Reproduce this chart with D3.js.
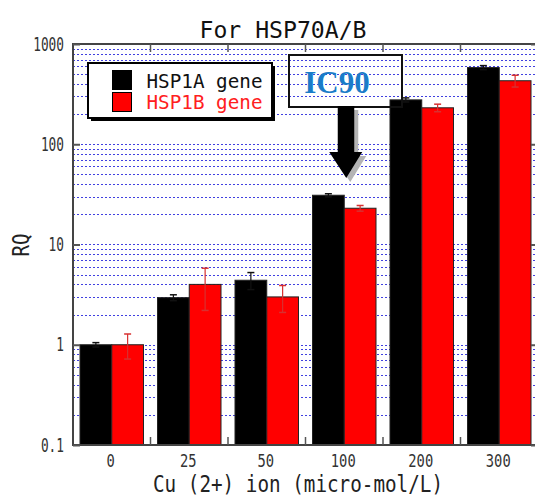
<!DOCTYPE html>
<html>
<head>
<meta charset="utf-8">
<script src="https://cdn.jsdelivr.net/npm/d3@7"></script>
<style>
  body { margin: 0; background: #fff; }
</style>
</head>
<body>
<div id="chart"></div>
<script>
// values
var doses = ["0", "25", "50", "100", "200", "300"];
var hsp1a = [1.0, 2.95, 4.4, 31, 277, 582];
var hsp1aErr = [0.05, 0.2, 0.85, 1.1, 13, 27];
var hsp1b = [1.0, 4.0, 3.0, 23, 231, 430];
var hsp1bErr = [0.28, 1.8, 0.9, 1.5, 20, 58];
var seriesNames = ["HSP1A gene", "HSP1B gene"];
var seriesColors = ["#000000", "#ff0000"];
var yTicks = [0.1, 1, 10, 100, 1000];

var wt = 535;
var ht = 496;
var pLeft = 73, pRight = 538, pTop = 44, pBottom = 445;
var mono = "'DejaVu Sans Mono', monospace";

var svg = d3.select("#chart").append("svg")
    .attr("width", wt)
    .attr("height", ht)
    .style("font-family", mono);

svg.append("rect")
    .attr("width", wt)
    .attr("height", ht)
    .attr("fill", "#fff");

var x0 = d3.scaleBand()
    .domain(doses)
    .range([pLeft, pRight]);

var x1 = d3.scaleBand()
    .domain([0, 1])
    .range([7, x0.bandwidth() - 7]);

var y = d3.scaleLog()
    .domain([0.1, 1000])
    .range([pBottom, pTop]);

// dotted blue grid at every log step
var gridVals = [];
[0.1, 1, 10, 100].forEach(function (d) {
    for (var k = 1; k <= 9; k++) {
        if (d * k > 0.1) gridVals.push(d * k);
    }
});
gridVals.push(1000);

svg.append("g").selectAll("line")
    .data(gridVals)
    .enter().append("line")
    .attr("x1", pLeft)
    .attr("x2", pRight)
    .attr("y1", function (d) { return Math.round(y(d)) + 0.5; })
    .attr("y2", function (d) { return Math.round(y(d)) + 0.5; })
    .attr("stroke", "#4040e0")
    .attr("stroke-width", 1.2)
    .attr("stroke-dasharray", "2,2");

// legend (white box hides the grid)
var lg = svg.append("g");
lg.append("rect")
    .attr("x", 91).attr("y", 66)
    .attr("width", 184).attr("height", 55)
    .attr("fill", "#000");
lg.append("rect")
    .attr("x", 88).attr("y", 63)
    .attr("width", 184).attr("height", 55)
    .attr("fill", "#fff")
    .attr("stroke", "#000")
    .attr("stroke-width", 2);
seriesNames.forEach(function (name, i) {
    lg.append("rect")
        .attr("x", 112.5).attr("y", 70.5 + i * 22)
        .attr("width", 19).attr("height", 19)
        .attr("fill", seriesColors[i])
        .attr("stroke", "#000")
        .attr("stroke-width", 1);
    lg.append("text")
        .attr("x", 146.5)
        .attr("y", 87.5 + i * 21)
        .attr("font-size", 20)
        .attr("textLength", 116)
        .attr("lengthAdjust", "spacingAndGlyphs")
        .attr("fill", i === 0 ? "#111" : "#ff2020")
        .text(name);
});

// bars
var series = [hsp1a, hsp1b];
var errs = [hsp1aErr, hsp1bErr];
series.forEach(function (vals, s) {
    var g = svg.append("g");
    g.selectAll("rect")
        .data(vals)
        .enter().append("rect")
        .attr("x", function (d, i) { return x0(doses[i]) + x1(s); })
        .attr("y", function (d) { return y(d); })
        .attr("width", x1.bandwidth())
        .attr("height", function (d) { return y(0.1) - y(d); })
        .attr("fill", seriesColors[s])
        .attr("stroke", "#222")
        .attr("stroke-width", 1);

    var errColor = s === 0 ? "#111" : "#d83030";
    var cx = function (d, i) { return x0(doses[i]) + x1(s) + x1.bandwidth() / 2; };
    var eb = g.selectAll(".err")
        .data(vals)
        .enter().append("g");
    eb.append("line")
        .attr("x1", cx)
        .attr("x2", cx)
        .attr("y1", function (d, i) { return y(d + errs[s][i]); })
        .attr("y2", function (d, i) { return y(d - errs[s][i]); })
        .attr("stroke", errColor)
        .attr("stroke-width", 1.2);
    [1, -1].forEach(function (sign) {
        eb.append("line")
            .attr("x1", function (d, i) { return cx(d, i) - 3.5; })
            .attr("x2", function (d, i) { return cx(d, i) + 3.5; })
            .attr("y1", function (d, i) { return y(d + sign * errs[s][i]); })
            .attr("y2", function (d, i) { return y(d + sign * errs[s][i]); })
            .attr("stroke", errColor)
            .attr("stroke-width", 1.5);
    });
});

// frame
svg.append("rect")
    .attr("x", pLeft).attr("y", pTop)
    .attr("width", pRight - pLeft).attr("height", pBottom - pTop)
    .attr("fill", "none")
    .attr("stroke", "#444")
    .attr("stroke-width", 2);

// y axes, ticks pointing inward
var yAxis = svg.append("g")
    .attr("transform", "translate(" + pLeft + ",0)")
    .call(d3.axisLeft(y).tickValues(yTicks).tickSize(-7).tickPadding(9)
        .tickFormat(function (d) { return String(d); }));
yAxis.select(".domain").remove();
yAxis.selectAll(".tick line").attr("stroke", "#555").attr("stroke-width", 2);
yAxis.selectAll(".tick text")
    .attr("font-size", 19)
    .attr("fill", "#333")
    .style("font-family", mono)
    .attr("textLength", function (d) { return String(d).length * 7.7; })
    .attr("lengthAdjust", "spacingAndGlyphs");

var yAxisR = svg.append("g")
    .attr("transform", "translate(" + pRight + ",0)")
    .call(d3.axisRight(y).tickValues(yTicks).tickSize(-7).tickFormat(""));
yAxisR.select(".domain").remove();
yAxisR.selectAll(".tick line").attr("stroke", "#555").attr("stroke-width", 2);

// x ticks sit between the groups
var bounds = doses.slice(1).map(function (d) { return x0(d); });
[[pBottom, pBottom - 8], [pTop, pTop + 8]].forEach(function (yy) {
    svg.append("g").selectAll("line")
        .data(bounds)
        .enter().append("line")
        .attr("x1", function (d) { return d; })
        .attr("x2", function (d) { return d; })
        .attr("y1", yy[0])
        .attr("y2", yy[1])
        .attr("stroke", "#555")
        .attr("stroke-width", 1.5);
});

svg.append("g").selectAll("text")
    .data(doses)
    .enter().append("text")
    .attr("x", function (d) { return x0(d) + x0.bandwidth() / 2 - 1; })
    .attr("y", 467)
    .attr("text-anchor", "middle")
    .attr("font-size", 18)
    .attr("fill", "#333")
    .attr("textLength", function (d) { return d.length * 8.3; })
    .attr("lengthAdjust", "spacingAndGlyphs")
    .text(function (d) { return d; });

// titles
svg.append("text")
    .attr("x", 283)
    .attr("y", 38)
    .attr("text-anchor", "middle")
    .attr("font-size", 23)
    .attr("fill", "#111")
    .attr("textLength", 167)
    .attr("lengthAdjust", "spacingAndGlyphs")
    .text("For HSP70A/B");

svg.append("text")
    .attr("x", 298)
    .attr("y", 492)
    .attr("text-anchor", "middle")
    .attr("font-size", 23)
    .attr("fill", "#222")
    .attr("textLength", 290)
    .attr("lengthAdjust", "spacingAndGlyphs")
    .text("Cu (2+) ion (micro-mol/L)");

svg.append("text")
    .attr("transform", "translate(29,245) rotate(-90)")
    .attr("text-anchor", "middle")
    .attr("font-size", 23)
    .attr("fill", "#222")
    .attr("textLength", 23)
    .attr("lengthAdjust", "spacingAndGlyphs")
    .text("RQ");

// IC90 annotation
var ann = svg.append("g");
ann.append("rect")
    .attr("x", 289).attr("y", 55)
    .attr("width", 113).attr("height", 52)
    .attr("fill", "none")
    .attr("stroke", "#111")
    .attr("stroke-width", 2);
ann.append("text")
    .attr("x", 337)
    .attr("y", 93)
    .attr("text-anchor", "middle")
    .style("font-family", "'Liberation Serif', serif")
    .attr("font-weight", "bold")
    .attr("font-size", 31)
    .attr("fill", "#1a7cc8")
    .text("IC90");

var ax = x0("100") + x0.bandwidth() / 2 + 2;
var arrowPts = [
    [ax - 8.5, 106], [ax + 8, 106], [ax + 8, 152], [ax + 16, 152],
    [ax, 178], [ax - 17, 152], [ax - 8.5, 152]
];
ann.append("polygon")
    .attr("points", arrowPts.map(function (p) { return (p[0] + 4) + "," + (p[1] + 4); }).join(" "))
    .attr("fill", "#b4b4b4");
ann.append("polygon")
    .attr("points", arrowPts.map(function (p) { return p.join(","); }).join(" "))
    .attr("fill", "#000");
</script>
</body>
</html>
